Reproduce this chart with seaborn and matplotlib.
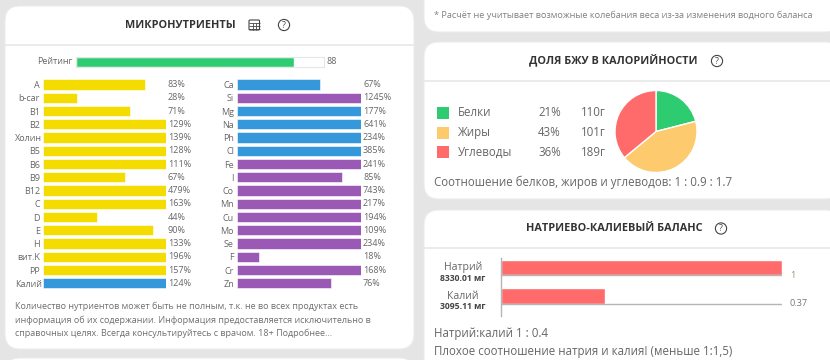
import matplotlib
matplotlib.use("Agg")
import matplotlib.pyplot as plt
import matplotlib.patches as mpatches
import pandas as pd
import seaborn as sns

W, H = 830, 360

# data
rating = 88
left_names = ["A", "b-car", "B1", "B2", "Холин", "B5", "B6", "B9", "B12", "C", "D", "E", "H", "вит.K", "PP", "Калий"]
left_values = [83, 28, 71, 129, 139, 128, 111, 67, 479, 163, 44, 90, 133, 196, 157, 124]
left_groups = ["vit"] * 15 + ["macro"]
right_names = ["Ca", "Si", "Mg", "Na", "Ph", "Cl", "Fe", "I", "Co", "Mn", "Cu", "Mo", "Se", "F", "Cr", "Zn"]
right_values = [67, 1245, 177, 641, 234, 385, 241, 85, 743, 217, 194, 109, 234, 18, 168, 76]
right_groups = ["macro", "micro", "macro", "macro", "macro", "macro"] + ["micro"] * 10

bju_names = ["Белки", "Жиры", "Углеводы"]
bju_pct = [21, 43, 36]
bju_grams = [110, 101, 189]

na_names = ["Натрий", "Калий"]
na_mg = ["8330.01 мг", "3095.11 мг"]
na_values = [1, 0.37]

PALETTE = {"vit": "#f4dc00", "macro": "#3498db", "micro": "#9b59b6"}
BJU_COLORS = ["#2ecc71", "#fdcb6e", "#ff6b6b"]
TEXT = "#666666"
FONT = "Open Sans"

sns.set_theme(style="white")
plt.rcParams["font.family"] = [FONT, "DejaVu Sans"]


def px_axes(fig, x0, y0, x1, y1, **kw):
    """Axes placed by pixel box, y measured from the top."""
    return fig.add_axes([x0 / W, 1 - y1 / H, (x1 - x0) / W, (y1 - y0) / H], **kw)


def card(bg, x0, y0, x1, y1):
    bg.add_patch(mpatches.FancyBboxPatch(
        (x0 + 15, y0 + 15), x1 - x0 - 30, y1 - y0 - 30,
        boxstyle="round,pad=15,rounding_size=15",
        fc="white", ec="#ececec", lw=0.8, zorder=1))


def help_icon(bg, x, y):
    bg.add_patch(mpatches.Circle((x, y), 5.6, fc="none", ec="#444444", lw=0.8, zorder=3))
    bg.text(x, y + 0.2, "?", ha="center", va="center", fontsize=6.2, color="#444444", zorder=3)


def nutrient_bars(fig, box, names, values, groups, label_x):
    ax = px_axes(fig, *box)
    df = pd.DataFrame({"name": names, "value": values, "group": groups})
    sns.barplot(data=df, x="value", y="name", hue="group", palette=PALETTE, dodge=False,
                saturation=1, width=0.77, legend=False, edgecolor="#ffffff", linewidth=0.4, ax=ax)
    ax.set_xlim(0, 100)
    ax.set_ylim(len(names) - 0.5, -0.5)
    ax.set_xlabel("")
    ax.set_ylabel("")
    ax.set_xticks([])
    ax.tick_params(axis="y", length=0, pad=2.2, labelsize=6.5, labelcolor=TEXT)
    for tick, name in zip(ax.yaxis.get_major_ticks(), names):
        if name in ("Холин", "Калий"):
            tick.set_pad(0.7)
    sns.despine(ax=ax, left=True, bottom=True)
    ax.patch.set_alpha(0)
    tr = ax.get_yaxis_transform()
    x_frac = (label_x - box[0]) / (box[2] - box[0])
    for i, v in enumerate(values):
        ax.text(x_frac, i, f"{v}%", transform=tr, ha="left", va="center",
                fontsize=6.5, color=TEXT)
    return ax


fig = plt.figure(figsize=(W / 100, H / 100), dpi=100, facecolor="#e5e5e5")
bg = fig.add_axes([0, 0, 1, 1])
bg.set_xlim(0, W)
bg.set_ylim(H, 0)
bg.axis("off")

# cards
card(bg, 5, 6, 414, 349)
card(bg, 5, 358, 414, 400)
card(bg, 424, -30, 840, 32)
card(bg, 424, 42, 840, 199)
card(bg, 424, 210, 840, 400)
bg.hlines(44.5, 5, 414, color="#e8e8e8", lw=1.2, zorder=2)
bg.hlines(81, 424, 830, color="#e8e8e8", lw=1.2, zorder=2)
bg.hlines(247.5, 424, 830, color="#e8e8e8", lw=1.2, zorder=2)

# titles and icons
title_kw = dict(ha="center", va="center", fontsize=7.8, fontweight="bold", color="#333333", zorder=3)
bg.text(180, 25, "МИКРОНУТРИЕНТЫ", **title_kw)
bg.text(613.5, 61, "ДОЛЯ БЖУ В КАЛОРИЙНОСТИ", **title_kw)
bg.text(614, 228.5, "НАТРИЕВО-КАЛИЕВЫЙ БАЛАНС", **title_kw)
help_icon(bg, 284, 25)
help_icon(bg, 717, 61)
help_icon(bg, 721, 228.5)

# table icon
bg.add_patch(mpatches.FancyBboxPatch((249, 20), 10.5, 10, boxstyle="round,pad=0,rounding_size=1",
                                     fc="none", ec="#444444", lw=0.8, zorder=3))
bg.hlines([23, 26, 28.5], 249, 259.5, color="#444444", lw=0.6, zorder=3)
bg.vlines([252.5, 256], 23, 30, color="#444444", lw=0.6, zorder=3)

# rating bar
bg.text(72.5, 61.5, "Рейтинг", ha="right", va="center", fontsize=6.5, color=TEXT, zorder=3)
bg.text(326.5, 61.5, str(rating), ha="left", va="center", fontsize=6.5, color=TEXT, zorder=3)
ax_rate = px_axes(fig, 76, 57, 324, 66.5)
sns.barplot(x=[rating], y=["Рейтинг"], color="#2ecc71", saturation=1, width=1, ax=ax_rate)
ax_rate.set_xlim(0, 100)
ax_rate.set_xticks([])
ax_rate.set_yticks([])
ax_rate.set_xlabel("")
ax_rate.set_ylabel("")
for s in ax_rate.spines.values():
    s.set_visible(True)
    s.set_color("#e6e6e6")
    s.set_linewidth(0.8)

# nutrient columns
nutrient_bars(fig, (43, 77.9, 165.7, 289.9), left_names, left_values, left_groups, 168)
nutrient_bars(fig, (237, 77.9, 361, 289.9), right_names, right_values, right_groups, 363)

# footnote
note_kw = dict(ha="left", va="center", fontsize=6.5, color="#6f6f6f", zorder=3)
bg.text(15, 306.5, "Количество нутриентов может быть не полным, т.к. не во всех продуктах есть", **note_kw)
bg.text(15, 320, "информация об их содержании. Информация предоставляется исключительно в", **note_kw)
bg.text(15, 333, "справочных целях. Всегда консультируйтесь с врачом. 18+ Подробнее...", **note_kw)

bg.text(434, 15.5, "* Расчёт не учитывает возможные колебания веса из-за изменения водного баланса",
        ha="left", va="center", fontsize=6.6, color="#808080", zorder=3)

# macro legend rows
for i, (name, pct, g) in enumerate(zip(bju_names, bju_pct, bju_grams)):
    y = 113 + i * 19.5
    bg.add_patch(mpatches.Rectangle((437, y - 6), 11.5, 12, fc=BJU_COLORS[i], ec="none", zorder=3))
    bg.text(458, y, name, ha="left", va="center", fontsize=8.3, color=TEXT, zorder=3)
    bg.text(538, y, f"{pct}%", ha="left", va="center", fontsize=8.3, color=TEXT, zorder=3)
    bg.text(581, y, f"{g}г", ha="left", va="center", fontsize=8.3, color=TEXT, zorder=3)
bg.text(434, 182, "Соотношение белков, жиров и углеводов: 1 : 0.9 : 1.7",
        ha="left", va="center", fontsize=8.3, color=TEXT, zorder=3)

ax_pie = px_axes(fig, 615, 90.5, 697, 172.5)
ax_pie.pie(bju_pct, colors=BJU_COLORS, startangle=90, counterclock=False, radius=1)
ax_pie.set_xlim(-1, 1)
ax_pie.set_ylim(-1, 1)

# sodium / potassium bars
ax_na = px_axes(fig, 500.5, 258, 782, 316)
sns.barplot(x=na_values, y=na_names, color="#ff6b6b", saturation=1, width=0.544, ax=ax_na)
ax_na.set_xlim(0, 1)
ax_na.set_ylim(1.693, -0.342)
ax_na.set_xticks([])
ax_na.set_yticks([])
ax_na.set_xlabel("")
ax_na.set_ylabel("")
ax_na.patch.set_alpha(0)
sns.despine(ax=ax_na, bottom=True)
ax_na.spines["left"].set_color("#b5b5b5")
ax_na.spines["left"].set_linewidth(1)
ax_na.hlines([0.272, 1.272], 0, 1, color="#b5b5b5", lw=1, zorder=5)
tr = ax_na.get_yaxis_transform()
for i, v in enumerate(na_values):
    ax_na.text(1.028, i + 0.26, f"{v:g}", transform=tr, ha="left", va="center",
               fontsize=6.6, color="#a09070" if i == 0 else "#777777", clip_on=False)
    bg.text(463, 267.7 + i * 28.6, na_names[i], ha="center", va="center", fontsize=7.6, color=TEXT, zorder=3)
    bg.text(463, 278.5 + i * 28.3, na_mg[i], ha="center", va="center", fontsize=6.2,
            fontweight="bold", color="#444444", zorder=3)

bg.text(434, 334, "Натрий:калий 1 : 0.4", ha="left", va="center", fontsize=8.3, color=TEXT, zorder=3)
bg.text(434, 351, "Плохое соотношение натрия и калия! (меньше 1:1,5)", ha="left", va="center",
        fontsize=8.3, color=TEXT, zorder=3)

fig.savefig("out.png", dpi=100, facecolor=fig.get_facecolor())
